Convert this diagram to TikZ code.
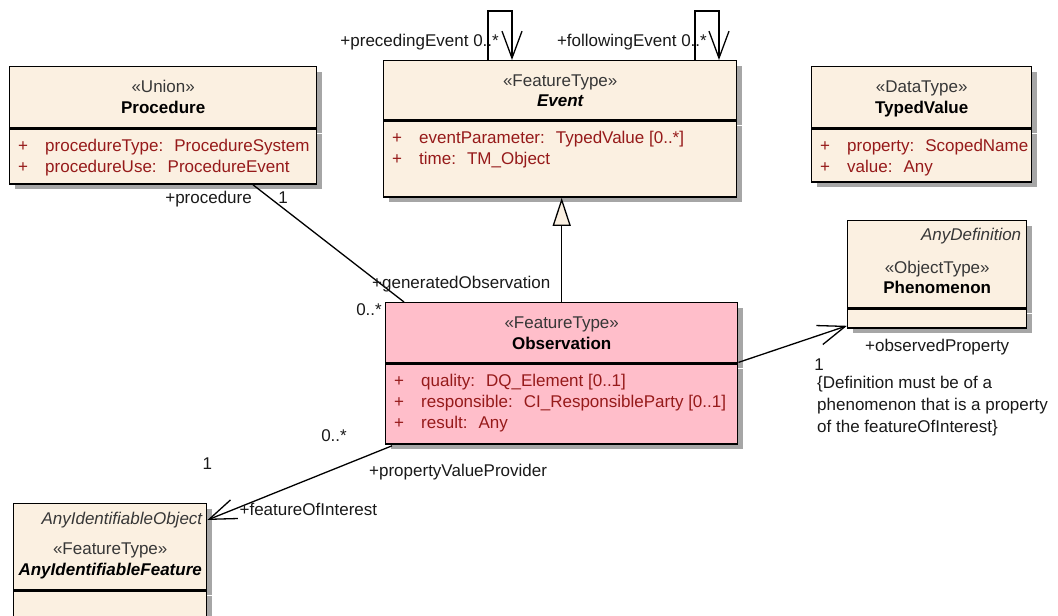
\documentclass[tikz,border=0pt]{standalone}
\usepackage{fontspec}
\setmainfont{Liberation Sans}
\usetikzlibrary{calc,shadows}
\usetikzlibrary{arrows.meta}

\definecolor{classfill}{RGB}{251,240,225}
\definecolor{obsfill}{RGB}{255,190,202}
\definecolor{attrred}{RGB}{150,26,26}
\definecolor{stereogray}{RGB}{55,55,55}
\definecolor{rolegray}{RGB}{25,25,25}

\newcommand{\umlsize}{\fontsize{17}{22}\selectfont}

\tikzset{
	classbox/.style={draw, line width=1.4pt, fill=classfill, anchor=north west, inner sep=0pt,
		drop shadow={shadow xshift=5pt, shadow yshift=-5pt, opacity=0.35, fill=black}},
	txt/.style={inner sep=0pt, text height=12pt, text depth=0pt, font=\umlsize},
	stereo/.style={txt, text=stereogray},
	cname/.style={txt, font=\umlsize\bfseries},
	aname/.style={txt, font=\umlsize\bfseries\itshape},
	absname/.style={txt, font=\umlsize\itshape, text=stereogray, anchor=east},
	vis/.style={txt, text=attrred},
	attr/.style={txt, text=attrred, anchor=west},
	role/.style={txt, text=rolegray},
	assoc/.style={draw=black, line width=1.3pt},
	navarrow/.style={assoc, -{Straight Barb[length=27pt, width=20pt]}},
	genarrow/.style={assoc, -{Triangle[length=28pt, width=18pt, fill=classfill]}}
}

\begin{document}
\begin{tikzpicture}[x=1pt, y=-1pt]
	\useasboundingbox (0,0) rectangle (1058,616);
	\clip (0,0) rectangle (1058,616);

	\node[classbox, minimum width=307pt, minimum height=61pt] (procHead) at (9,66) {};
	\node[classbox, minimum width=307pt, minimum height=55pt] (procBody) at (procHead.south west) {};

	\node[classbox, minimum width=353pt, minimum height=59pt] (evHead) at (383,60) {};
	\node[classbox, minimum width=353pt, minimum height=76pt] (evBody) at (evHead.south west) {};

	\node[classbox, minimum width=220pt, minimum height=61pt] (tvHead) at (811,66) {};
	\node[classbox, minimum width=220pt, minimum height=53pt] (tvBody) at (tvHead.south west) {};

	\node[classbox, minimum width=179pt, minimum height=87pt] (phenHead) at (847,220) {};
	\node[classbox, minimum width=179pt, minimum height=19pt] (phenBody) at (phenHead.south west) {};

	\node[classbox, fill=obsfill, minimum width=352pt, minimum height=60pt] (obsHead) at (385,302) {};
	\node[classbox, fill=obsfill, minimum width=352pt, minimum height=80pt] (obsBody) at (obsHead.south west) {};

	\node[classbox, minimum width=193pt, minimum height=86pt] (aifHead) at (13,503) {};
	\node[classbox, minimum width=193pt, minimum height=40pt] (aifBody) at (aifHead.south west) {};

	% class headers
	\node[stereo] (procSt) at ($(procHead.north)+(0,20)$) {«Union»};
	\node[cname] (procName) at ($(procHead.north)+(0,41)$) {Procedure};

	\node[stereo] (evSt) at ($(evHead.north)+(0,20)$) {«FeatureType»};
	\node[aname] (evName) at ($(evHead.north)+(0,40)$) {Event};

	\node[stereo] (tvSt) at ($(tvHead.north)+(0,20)$) {«DataType»};
	\node[cname] (tvName) at ($(tvHead.north)+(0,41)$) {TypedValue};

	\node[absname] (phenAbs) at ($(phenHead.north east)+(-6,14)$) {AnyDefinition};
	\node[stereo] (phenSt) at ($(phenHead.north)+(0,47)$) {«ObjectType»};
	\node[cname] (phenName) at ($(phenHead.north)+(0,67)$) {Phenomenon};

	\node[stereo] (obsSt) at ($(obsHead.north)+(0,20)$) {«FeatureType»};
	\node[cname] (obsName) at ($(obsHead.north)+(0,41)$) {Observation};

	\node[absname] (aifAbs) at ($(aifHead.north east)+(-5,15)$) {AnyIdentifiableObject};
	\node[stereo] (aifSt) at ($(aifHead.north)+(0,45)$) {«FeatureType»};
	\node[aname] (aifName) at ($(aifHead.north)+(0,66)$) {AnyIdentifiableFeature};

	% attributes
	\node[vis] (procV1) at ($(procBody.north west)+(14,17)$) {+};
	\node[attr] (procA1) at ($(procBody.north west)+(36,17)$) {procedureType:~ ProcedureSystem};
	\node[vis] (procV2) at ($(procBody.north west)+(14,38)$) {+};
	\node[attr] (procA2) at ($(procBody.north west)+(36,38)$) {procedureUse:~ ProcedureEvent};

	\node[vis] (evV1) at ($(evBody.north west)+(14,17)$) {+};
	\node[attr] (evA1) at ($(evBody.north west)+(36,17)$) {eventParameter:~ TypedValue [0..*]};
	\node[vis] (evV2) at ($(evBody.north west)+(14,38)$) {+};
	\node[attr] (evA2) at ($(evBody.north west)+(36,38)$) {time:~ TM\_Object};

	\node[vis] (tvV1) at ($(tvBody.north west)+(14,17)$) {+};
	\node[attr] (tvA1) at ($(tvBody.north west)+(36,17)$) {property:~ ScopedName};
	\node[vis] (tvV2) at ($(tvBody.north west)+(14,38)$) {+};
	\node[attr] (tvA2) at ($(tvBody.north west)+(36,38)$) {value:~ Any};

	\node[vis] (obsV1) at ($(obsBody.north west)+(14,17)$) {+};
	\node[attr] (obsA1) at ($(obsBody.north west)+(36,17)$) {quality:~ DQ\_Element [0..1]};
	\node[vis] (obsV2) at ($(obsBody.north west)+(14,38)$) {+};
	\node[attr] (obsA2) at ($(obsBody.north west)+(36,38)$) {responsible:~ CI\_ResponsibleParty [0..1]};
	\node[vis] (obsV3) at ($(obsBody.north west)+(14,59)$) {+};
	\node[attr] (obsA3) at ($(obsBody.north west)+(36,59)$) {result:~ Any};

	% connectors
	\coordinate (procEnd) at ($(procBody.south west)+(244,0)$);
	\coordinate (obsTopL) at ($(obsHead.north west)+(19,0)$);
	\draw[assoc] (procEnd) -- (obsTopL);

	\draw[genarrow] (obsHead.north) -- (obsHead.north |- evBody.south);

	\coordinate (precA) at ($(evHead.north west)+(105,0)$);
	\coordinate (precB) at ($(evHead.north west)+(129,0)$);
	\draw[navarrow] (precA) -- ++(0,-49) -- ++(24,0) -- (precB);

	\coordinate (follA) at ($(evHead.north west)+(312,0)$);
	\coordinate (follB) at ($(evHead.north west)+(336,0)$);
	\draw[navarrow] (follA) -- ++(0,-49) -- ++(24,0) -- (follB);

	\coordinate (obsRight) at ($(obsHead.south east)+(0,-1)$);
	\coordinate (phenEnd) at ($(phenBody.south west)+(0,-3)$);
	\draw[navarrow] (obsRight) -- (phenEnd);

	\coordinate (obsLow) at ($(obsBody.south west)+(7,1)$);
	\coordinate (aifEnd) at ($(aifHead.north east)+(0,17)$);
	\draw[navarrow] (obsLow) -- (aifEnd);

	% roles and multiplicities
	\node[role, anchor=east] (procRole) at ($(procEnd)+(-1,13)$) {+procedure};
	\node[role] (procMult) at ($(procEnd)+(30,13)$) {1};
	\node[role, anchor=west] (genRole) at ($(obsTopL)+(-32,-20)$) {+generatedObservation};
	\node[role, anchor=east] (genMult) at ($(obsTopL)+(-22,7)$) {0..*};

	\node[role, anchor=east] (precRole) at ($(precA)+(11,-20)$) {+precedingEvent 0..*};
	\node[role, anchor=east] (follRole) at ($(follA)+(12,-20)$) {+followingEvent 0..*};

	\node[role] (phenMult) at ($(phenEnd)+(-28,39)$) {1};
	\node[role] (phenRole) at ($(phenBody.south)+(0,17)$) {+observedProperty};
	\node[role, anchor=north west, align=left, text height=, font=\fontsize{17}{22}\selectfont] (phenNote) at (817,376)
		{\{Definition must be of a\\phenomenon that is a property\\of the featureOfInterest\}};

	\node[role, anchor=east] (provMult) at ($(obsLow)+(-45,-10)$) {0..*};
	\node[role, anchor=west] (provRole) at ($(obsLow)+(-23,25)$) {+propertyValueProvider};
	\node[role] (foiMult) at ($(aifEnd)+(0,-57)$) {1};
	\node[role, anchor=west] (foiRole) at ($(aifEnd)+(32,-11)$) {+featureOfInterest};
\end{tikzpicture}
\end{document}
